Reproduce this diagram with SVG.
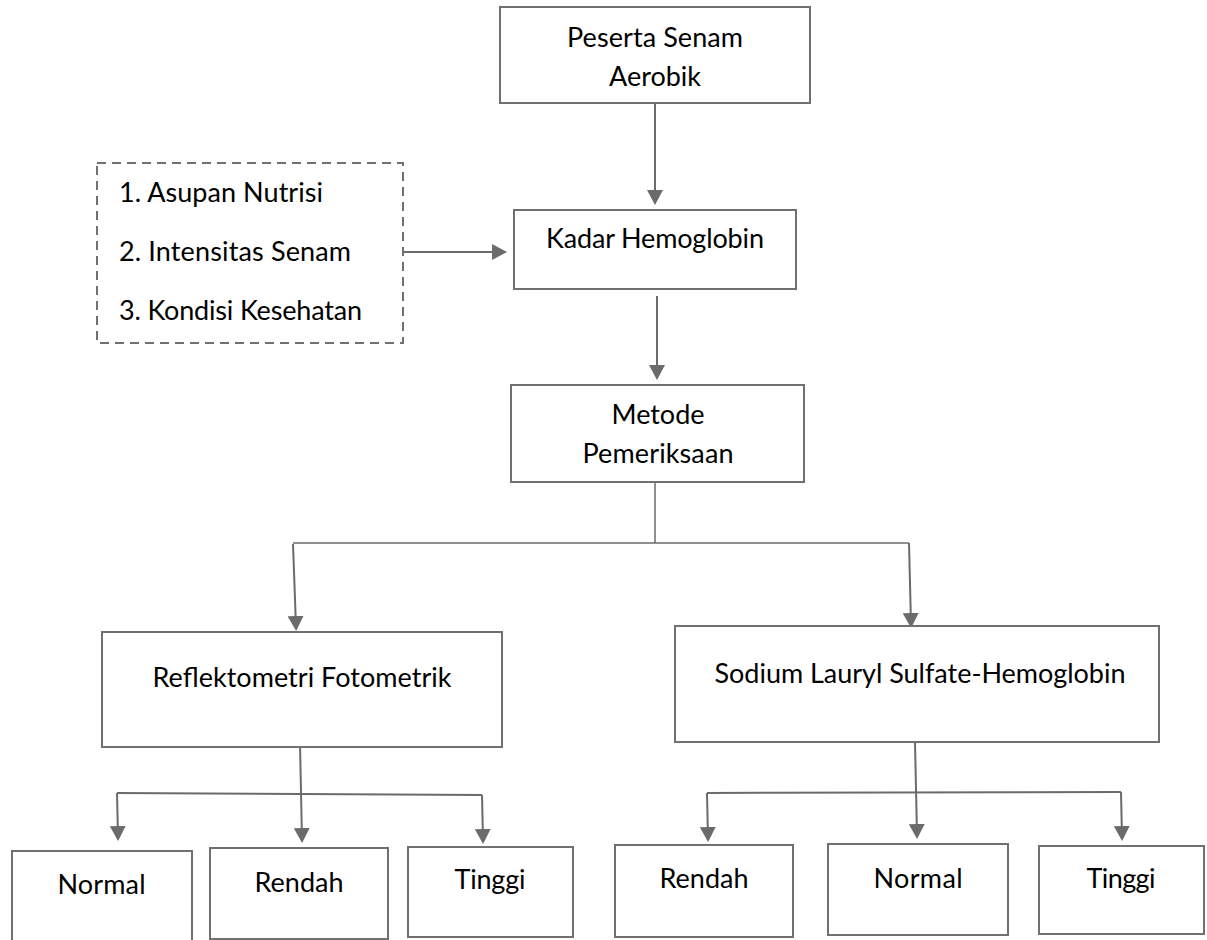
<svg xmlns="http://www.w3.org/2000/svg" width="1207" height="940" viewBox="0 0 1207 940">
<defs>
<style>
.box{fill:#fff;stroke:#707070;stroke-width:2}
.dash{fill:none;stroke:#707070;stroke-width:2;stroke-dasharray:9 6}
.t{font-family:Lato,"Liberation Sans",sans-serif;font-size:27px;fill:#000;text-anchor:middle}
.tl{font-family:Lato,"Liberation Sans",sans-serif;font-size:27px;fill:#000}
.c{fill:none;stroke:#6b6b6b;stroke-width:2}
.cn{fill:none;stroke:#6b6b6b;stroke-width:1.5}
</style>
<marker id="arr" markerUnits="userSpaceOnUse" viewBox="0 0 15 16" markerWidth="15" markerHeight="16" refX="11" refY="8" orient="auto">
<path d="M0,0 L15,8 L0,16 z" fill="#6b6b6b"/>
</marker>
</defs>
<rect width="1207" height="940" fill="#fff"/>

<g id="connectors">
<path class="c" d="M655,103 L655,201" marker-end="url(#arr)"/>
<path class="c" d="M403,252 L503,252" marker-end="url(#arr)"/>
<path class="c" d="M657,296 L657,376" marker-end="url(#arr)"/>
<path class="cn" d="M655,482 L655,543"/>
<path class="cn" d="M293,543 L909,543"/>
<path class="c" d="M293,544 L296,627" marker-end="url(#arr)"/>
<path class="c" d="M909,543 L911,624" marker-end="url(#arr)"/>
<path class="c" d="M300,744 L302,839" marker-end="url(#arr)"/>
<path class="c" d="M117,793 L482,795"/>
<path class="c" d="M117,793 L118,837" marker-end="url(#arr)"/>
<path class="c" d="M482,795 L483,840" marker-end="url(#arr)"/>
<path class="c" d="M915,742 L917,835" marker-end="url(#arr)"/>
<path class="c" d="M707,793 L1121,792"/>
<path class="c" d="M707,793 L708,838" marker-end="url(#arr)"/>
<path class="c" d="M1121,792 L1122,837" marker-end="url(#arr)"/>
</g>

<g id="peserta">
<rect class="box" x="500" y="7" width="310" height="96"/>
<text class="t" x="655" y="47" textLength="176">Peserta Senam</text>
<text class="t" x="655" y="86" textLength="92">Aerobik</text>
</g>

<g id="faktor">
<rect class="dash" x="97" y="163" width="306" height="180"/>
<text class="tl" x="119" y="202" textLength="204">1. Asupan Nutrisi</text>
<text class="tl" x="119" y="261" textLength="232">2. Intensitas Senam</text>
<text class="tl" x="119" y="320" textLength="243">3. Kondisi Kesehatan</text>
</g>

<g id="kadar">
<rect class="box" x="514" y="210" width="282" height="79"/>
<text class="t" x="655" y="248" textLength="218">Kadar Hemoglobin</text>
</g>

<g id="metode">
<rect class="box" x="511" y="385" width="293" height="97"/>
<text class="t" x="658" y="424" textLength="93">Metode</text>
<text class="t" x="658" y="463" textLength="151">Pemeriksaan</text>
</g>

<g id="reflektometri">
<rect class="box" x="102" y="632" width="400" height="115"/>
<text class="t" x="302" y="687" textLength="299">Reflektometri Fotometrik</text>
</g>

<g id="sls">
<rect class="box" x="675" y="626" width="484" height="116"/>
<text class="t" x="920" y="683" textLength="411">Sodium Lauryl Sulfate-Hemoglobin</text>
</g>

<g id="rf-normal">
<rect class="box" x="12" y="851" width="180" height="95"/>
<text class="t" x="101.5" y="894" textLength="88">Normal</text>
</g>
<g id="rf-rendah">
<rect class="box" x="210" y="848" width="178" height="91"/>
<text class="t" x="299" y="892" textLength="89">Rendah</text>
</g>
<g id="rf-tinggi">
<rect class="box" x="408" y="847" width="165" height="90"/>
<text class="t" x="490" y="889" textLength="71">Tinggi</text>
</g>

<g id="sls-rendah">
<rect class="box" x="615" y="845" width="178" height="92"/>
<text class="t" x="704" y="888" textLength="89">Rendah</text>
</g>
<g id="sls-normal">
<rect class="box" x="828" y="844" width="180" height="91"/>
<text class="t" x="918" y="888" textLength="89">Normal</text>
</g>
<g id="sls-tinggi">
<rect class="box" x="1039" y="846" width="165" height="88"/>
<text class="t" x="1121" y="888" textLength="69">Tinggi</text>
</g>
</svg>
